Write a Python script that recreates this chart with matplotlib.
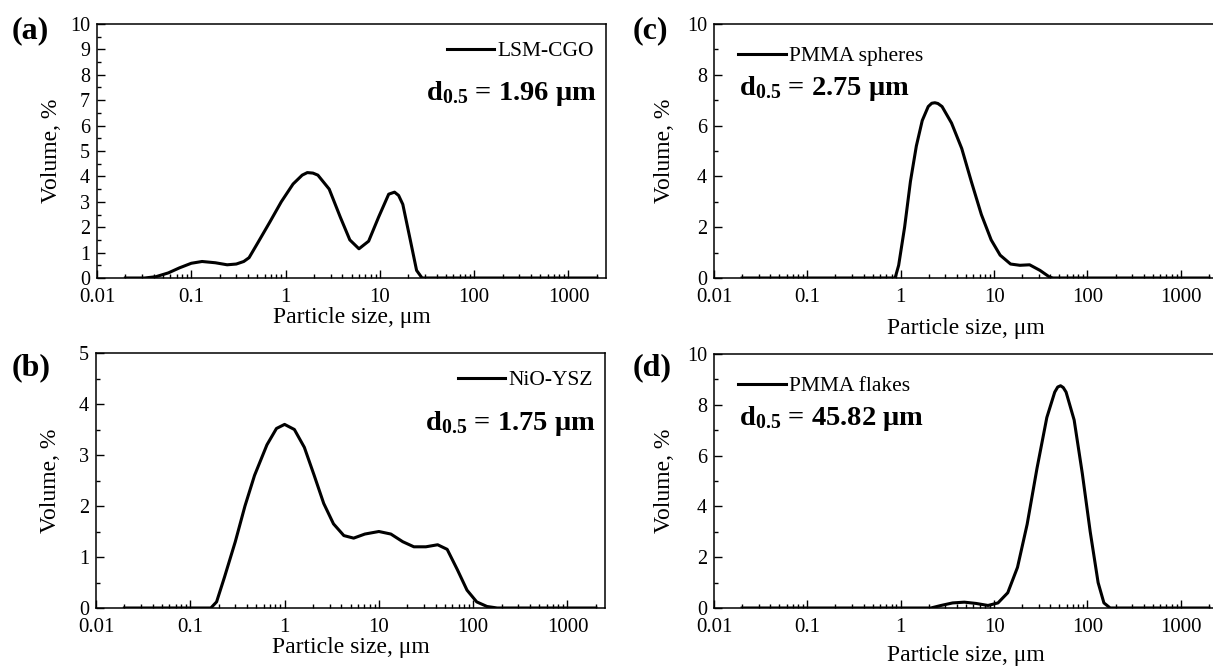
import matplotlib
matplotlib.use("Agg")
import matplotlib.pyplot as plt
from matplotlib.ticker import LogLocator, MultipleLocator, NullFormatter, FixedLocator
import numpy as np

plt.rcParams['font.family'] = 'serif'
plt.rcParams['font.serif'] = ['Liberation Serif', 'DejaVu Serif']
plt.rcParams['mathtext.fontset'] = 'custom'
plt.rcParams['mathtext.rm'] = 'Liberation Serif'
plt.rcParams['mathtext.bf'] = 'Liberation Serif:bold'

# (a) LSM-CGO
size_a = [0.02, 0.032, 0.042, 0.057, 0.075, 0.1, 0.13, 0.18, 0.24, 0.30, 0.36, 0.41, 0.51, 0.68,
          0.9, 1.2, 1.5, 1.7, 1.95, 2.2, 2.9, 3.8, 4.8, 6.0, 7.6, 9.7, 12.4, 14.3, 15.8, 17.5, 21,
          24.5, 28, 2000]
vol_a = [0, 0, 0.05, 0.2, 0.4, 0.58, 0.65, 0.6, 0.52, 0.55, 0.65, 0.8, 1.4, 2.2,
         3.0, 3.7, 4.05, 4.15, 4.13, 4.05, 3.5, 2.4, 1.5, 1.15, 1.45, 2.4, 3.3, 3.38, 3.25, 2.9, 1.5,
         0.3, 0, 0]

# (b) NiO-YSZ
size_b = [0.02, 0.165, 0.19, 0.23, 0.30, 0.38, 0.48, 0.65, 0.82, 1.0, 1.27, 1.62, 2.06, 2.6,
          3.3, 4.25, 5.4, 7.1, 10, 13.4, 17.9, 23.5, 31.5, 42, 53, 68, 86, 109, 140, 180, 2000]
vol_b = [0, 0, 0.12, 0.6, 1.3, 2.0, 2.6, 3.2, 3.52, 3.6, 3.5, 3.15, 2.6, 2.05,
         1.65, 1.42, 1.37, 1.45, 1.5, 1.45, 1.3, 1.2, 1.2, 1.24, 1.15, 0.75, 0.35, 0.12, 0.03, 0, 0]

# (c) PMMA spheres
size_c = [0.02, 0.87, 0.95, 1.1, 1.27, 1.47, 1.7, 1.97, 2.15, 2.32, 2.5, 2.77, 3.5, 4.5, 5.7, 7.3,
          9.3, 11.6, 15, 18.9, 24, 31, 39.5, 43, 2000]
vol_c = [0, 0, 0.5, 2.0, 3.8, 5.2, 6.2, 6.75, 6.88, 6.9, 6.87, 6.75, 6.1, 5.1, 3.8, 2.5,
         1.5, 0.9, 0.55, 0.5, 0.52, 0.3, 0.03, 0, 0]

# (d) PMMA flakes
size_d = [0.02, 2.1, 2.7, 3.6, 4.8, 6.4, 8.6, 11, 14, 17.8, 22.6, 28.8, 36.7, 44.6, 48, 51.5,
          55, 59, 72, 88, 107, 130, 150, 175, 2000]
vol_d = [0, 0, 0.1, 0.2, 0.23, 0.18, 0.1, 0.2, 0.6, 1.6, 3.3, 5.5, 7.5, 8.5, 8.7, 8.75,
         8.68, 8.5, 7.4, 5.3, 3.0, 1.0, 0.2, 0, 0]

panels = [
    # tag, x, y, legend, d05, axes rect, ymax, ymajor, side, xlabel pad, tag centre y
    ('(a)', size_a, vol_a, 'LSM-CGO', '1.96', [97/1213, 1-278/667, 509/1213, 254/667], 10, 1, 'right', 0, 31),
    ('(b)', size_b, vol_b, 'NiO-YSZ', '1.75', [96/1213, 1-608/667, 509/1213, 255/667], 5, 1, 'right', 0, 368),
    ('(c)', size_c, vol_c, 'PMMA spheres', '2.75', [714/1213, 1-278/667, 504/1213, 254/667], 10, 2, 'left', 8, 31),
    ('(d)', size_d, vol_d, 'PMMA flakes', '45.82', [714/1213, 1-608/667, 504/1213, 254/667], 10, 2, 'left', 6, 368),
]

fig = plt.figure(figsize=(12.13, 6.67), dpi=100)

for tag, x, y, name, d05, rect, ymax, ymaj, side, lpad, tag_y in panels:
    ax = fig.add_axes(rect)
    ax.plot(x, y, color='black', linewidth=2.2, label=name)
    ax.set_xscale('log')
    ax.set_xlim(0.01, 2500)
    ax.set_ylim(0, ymax)
    ax.xaxis.set_major_locator(FixedLocator([0.01, 0.1, 1, 10, 100, 1000]))
    ax.set_xticklabels(['0.01', '0.1', '1', '10', '100', '1000'])
    ax.xaxis.set_minor_locator(LogLocator(base=10, subs=np.arange(2, 10), numticks=20))
    ax.xaxis.set_minor_formatter(NullFormatter())
    ax.yaxis.set_major_locator(MultipleLocator(ymaj))
    ax.yaxis.set_minor_locator(MultipleLocator(ymaj / 2))
    ax.tick_params(which='major', direction='in', length=6, width=1)
    ax.tick_params(axis='x', which='major', pad=7, labelsize=15)
    ax.tick_params(axis='y', which='major', pad=5, labelsize=14.5)
    ax.tick_params(which='minor', direction='in', length=3, width=1)
    for s in ax.spines.values():
        s.set_linewidth(1.1)
    ax.set_xlabel('Particle size, \u03bcm', fontsize=17, labelpad=lpad)
    ax.set_ylabel('Volume, %', fontsize=17)
    if side == 'right':
        ax.yaxis.set_label_coords(-0.068, 0.5)
    else:
        ax.yaxis.set_label_coords(-0.078, 0.5)

    d_text = r'$\mathbf{d_{0.5}}$' + ' = ' + d05 + ' \u03bcm'
    if side == 'right':
        ax.legend(loc='upper right', bbox_to_anchor=(0.985, 0.95), frameon=False, fontsize=15.5,
                  handlelength=2.2, handletextpad=0.15, borderaxespad=0, borderpad=0.2)
        ax.text(0.982, 0.70, d_text, transform=ax.transAxes, ha='right', va='baseline',
                fontsize=20.5, fontweight='bold')
    else:
        ax.legend(loc='upper left', bbox_to_anchor=(0.04, 0.93), frameon=False, fontsize=15.5,
                  handlelength=2.2, handletextpad=0.15, borderaxespad=0, borderpad=0.2)
        ax.text(0.05, 0.72, d_text, transform=ax.transAxes, ha='left', va='baseline',
                fontsize=20.5, fontweight='bold')

    tag_x = 12 if side == 'right' else 633
    fig.text(tag_x / 1213, 1 - tag_y / 667, tag, fontsize=23, fontweight='bold',
             ha='left', va='center')

fig.savefig('out.png', dpi=100)
